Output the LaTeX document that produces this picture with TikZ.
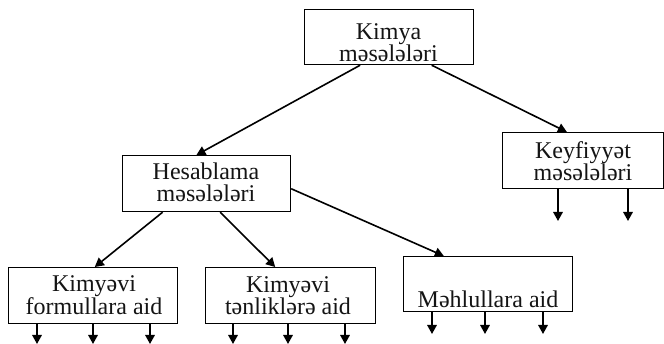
\documentclass[tikz,border=0pt]{standalone}
\usepackage{fontspec}
\setmainfont{Liberation Serif}
\usetikzlibrary{arrows.meta,calc}
\begin{document}
\begin{tikzpicture}[x=1pt,y=-1pt,
  box/.style={draw=black,line width=1.2pt,inner sep=0pt,anchor=north west},
  lbl/.style={font=\fontsize{24}{22}\selectfont,align=center,inner sep=0pt,anchor=north,text=black!92},
  link/.style={line width=1.6pt,-{Triangle[length=9pt,width=9.5pt]}}]
\newcommand{\toprule}{\rule{0pt}{17pt}}
\useasboundingbox (0,0) rectangle (664,344);

% boxes
\node[box,minimum width=169pt,minimum height=55pt] (kimya)  at (304,9)   {};
\node[box,minimum width=168pt,minimum height=56pt] (hesab)  at (122,155) {};
\node[box,minimum width=161pt,minimum height=56pt] (keyf)   at (502,132) {};
\node[box,minimum width=169pt,minimum height=56pt] (formul) at (8,267)   {};
\node[box,minimum width=170pt,minimum height=56pt] (tenlik) at (205,267) {};
\node[box,minimum width=169pt,minimum height=55pt] (mehlul) at (403,256) {};

% labels
\node[lbl] (tkimya)  at (388.5,22) {\toprule Kimya\\məsələləri};
\node[lbl] (thesab)  at (206,162)  {\toprule Hesablama\\məsələləri};
\node[lbl] (tkeyf)   at (583,141)  {\toprule Keyfiyyət\\məsələləri};
\node[lbl] (tformul) at (94,274)   {\toprule Kimyəvi\\formullara aid};
\node[lbl] (ttenlik) at (288,275)  {\toprule Kimyəvi\\tənliklərə aid};
\node[lbl] (tmehlul) at (488,290)  {\toprule Məhlullara aid};

% tree links
\draw[link] ($(kimya.south west)!0.33!(kimya.south east)$) -- ($(hesab.north west)!0.44!(hesab.north east)$);
\draw[link] ($(kimya.south west)!0.75!(kimya.south east)$) -- ($(keyf.north west)!0.40!(keyf.north east)$);
\draw[link] ($(hesab.south west)!0.24!(hesab.south east)$) -- ($(formul.north west)!0.51!(formul.north east)$);
\draw[link] ($(hesab.south west)!0.58!(hesab.south east)$) -- ($(tenlik.north west)!0.41!(tenlik.north east)$);
\draw[link] ($(hesab.north east)!0.59!(hesab.south east)$) -- ($(mehlul.north west)!0.24!(mehlul.north east)$);

% open-ended outputs
\coordinate (k1) at (558,221); \coordinate (k2) at (628,221);
\coordinate (f1) at (37,344);  \coordinate (f2) at (93,344);  \coordinate (f3) at (150,344);
\coordinate (t1) at (233,344); \coordinate (t2) at (288,344); \coordinate (t3) at (345,344);
\coordinate (m1) at (432,334); \coordinate (m2) at (485,334); \coordinate (m3) at (543,334);
\foreach \c in {k1,k2} \draw[link] (keyf.south -| \c) -- (\c);
\foreach \c in {f1,f2,f3} \draw[link] (formul.south -| \c) -- (\c);
\foreach \c in {t1,t2,t3} \draw[link] (tenlik.south -| \c) -- (\c);
\foreach \c in {m1,m2,m3} \draw[link] (mehlul.south -| \c) -- (\c);
\end{tikzpicture}
\end{document}
